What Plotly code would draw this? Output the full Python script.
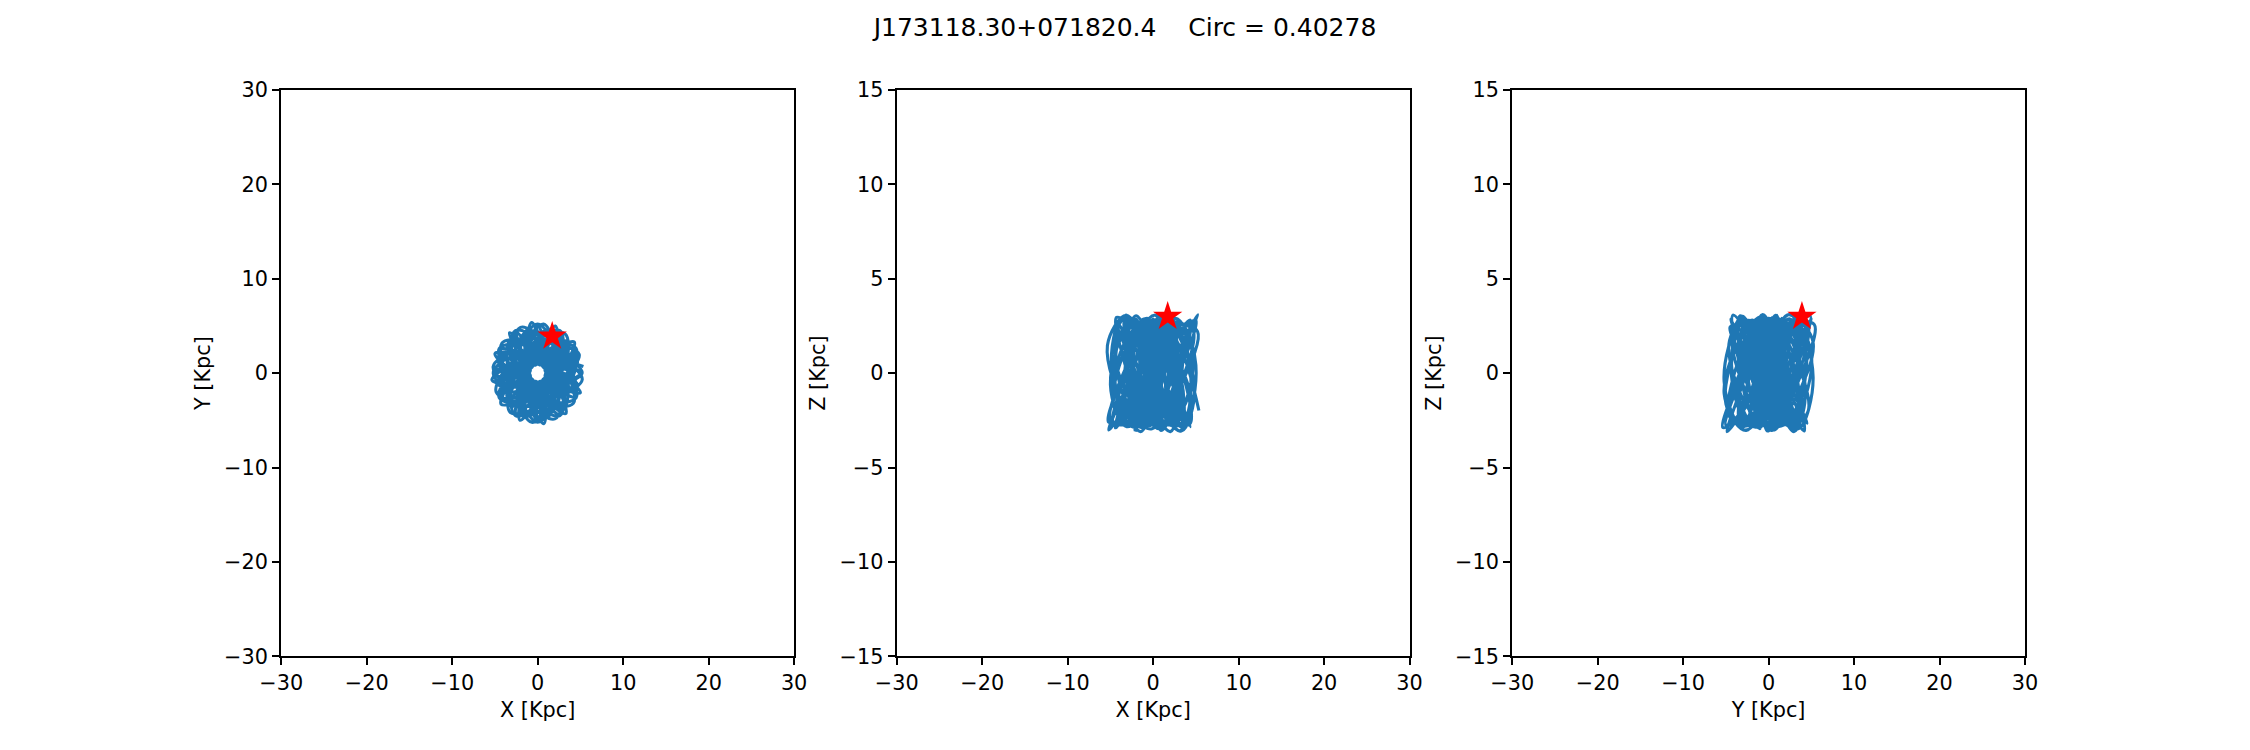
import plotly.graph_objects as go

title_text = "J173118.30+071820.4\u00a0\u00a0\u00a0\u00a0Circ = 0.40278"

# Orbit positions (kpc), read approximately from the tangle in the picture
orbit_x = [
    5.35,
    3.05, 0.13, -2.62, -4.99,
    -3.27, -0.61, 1.26, 3.29,
    2.62, 0.92, 0.43, -0.71,
    -1.26, -0.99, -2.01, -2.07,
    -0.43, 0.79, 3.2, 4.28,
    2.01, -0.38, -3.15, -5.35,
    -3.05, -0.13, 2.8, 4.99,
    3.27, 0.61, -1.5, -3.29,
    -2.4, -0.92, -0.75, 0.71,
    1.0, 0.99, 2.3, 2.07,
    0.75, -0.79, -3.15, -4.28,
    -1.75, 0.38, 3.3, 4.85,
    2.19, -0.15, -2.85, -5.21,
    -3.33, -0.44, 1.38, 4.17,
    3.57, 0.91, 0.47, -2.01,
    -3.05, -1.14, -2.19, -0.69,
    1.65, 1.06, 3.33, 3.20,
    0.2, -0.70, -3.57, -4.85,
    -1.95, 0.15, 2.85, 5.21,
    3.45, 0.44, -1.38, -4.17,
    -3.6, -0.91, -0.47, 2.01,
    3.05, 1.14, 1.9, 0.69,
    -1.1, -1.06, -3.2, -3.20,
    -0.15, 0.70, 3.5,
    5.0,
    3.09, 0.26, -2.26, -4.33,
    -3.09, -0.71, 0.83, 2.5,
    2.26, 0.97, 0.83, 0.0,
    -0.83, -0.97, -2.26, -2.5,
    -0.83, 0.71, 3.3, 4.33,
    2.26, -0.26, -2.9, -5.0,
    -3.09, -0.26, 2.45, 4.33,
    3.09, 0.71, -1.1, -2.5,
    -2.0, -0.97, -1.05, 0.0,
    0.6, 0.97, 2.5, 2.5,
    1.1, -0.71, -3.2, -4.33,
    -2.0, 0.26, 3.2, 4.64,
    2.60, 0.0, -2.60, -4.64,
    -3.0, -0.6, 1.5, 3.39,
    2.60, 1.04, 0.0, -1.24,
    -1.5, -1.2, -1.5, -1.24,
    0.0, 1.04, 2.8, 3.39,
    1.5, -0.6, -2.95, -4.64,
    -2.60, 0.0, 2.4, 4.64,
    3.0, 0.6, -1.8, -3.39,
    -2.8, -1.04, 0.35, 1.24,
    1.8, 1.2, 1.2, 1.24,
    -0.35, -1.04, -2.4, -3.39,
    -1.2, 0.6, 3.0, 5.2,
    3.03, 0.23, -1.75, -4.50,
    -3.5, -0.64, 0.0, 2.6,
    3.03, 0.87, 1.75, 0.0,
    -2.0, -0.87, -3.03, -2.6,
    0.3, 0.64, 3.5, 4.50,
    1.5, -0.23, -3.03, -5.2,
    -2.85, -0.23, 1.75, 4.50,
    3.45, 0.64, 0.0, -2.6,
    -3.15, -0.87, -1.75, 0.0,
    2.0, 0.87, 2.85, 2.6,
    -0.3, -0.64, -3.45, -4.50,
    -1.5, 0.23, 3.15, 4.44,
    2.40, 0.0, -2.40, -4.44,
    -3.28, -0.55, 0.88, 3.25,
    3.28, 0.95, 0.88, -1.19,
    -2.6, -1.1, -2.40, -1.19,
    1.15, 0.95, 3.28, 3.25,
    0.6, -0.55, -3.28, -4.44,
    -2.15, 0.0, 2.40, 4.44,
    3.35, 0.55, -0.88, -3.25,
    -3.35, -0.95, -0.88, 1.19,
    2.6, 1.1, 2.15, 1.19,
    -1.15, -0.95, -3.35, -3.25,
    -0.6, 0.55, 3.2, 3.9, 1.7,
]
orbit_y = [
    0.71,
    1.26, 0.99, 2.01, 2.07,
    0.43, -0.79, -3.05, -4.28,
    -2.01, 0.38, 3.27, 5.35,
    3.05, 0.13, -2.62, -4.99,
    -3.27, -0.61, 0.95, 3.29,
    2.62, 0.92, 0.8, -0.71,
    -1.26, -0.99, -1.75, -2.07,
    -0.43, 0.79, 2.95, 4.28,
    2.25, -0.38, -3.2, -5.35,
    -3.15, -0.13, 2.4, 4.99,
    3.2, 0.61, -0.95, -3.29,
    -2.8, -0.92, -0.1, 2.01,
    2.85, 1.14, 2.19, 0.69,
    -1.38, -1.06, -3.33, -3.20,
    -0.47, 0.70, 3.57, 4.85,
    1.9, -0.15, -2.85, -5.21,
    -3.2, -0.44, 1.38, 4.17,
    3.6, 0.91, 0.47, -2.01,
    -3.0, -1.14, -2.19, -0.69,
    1.05, 1.06, 3.33, 3.20,
    0.15, -0.70, -3.57, -4.85,
    -1.9, 0.15, 3.05, 5.21,
    3.45, 0.44, -1.65, -4.17,
    -3.6, -0.91, -0.8,
    0.0,
    0.83, 0.97, 2.26, 2.5,
    0.83, -0.71, -3.09, -4.33,
    -2.26, 0.26, 3.09, 5.0,
    3.09, 0.26, -2.26, -4.33,
    -3.09, -0.71, 0.6, 2.5,
    2.26, 0.97, 1.1, 0.0,
    -0.83, -0.97, -2.0, -2.5,
    -0.83, 0.71, 2.95, 4.33,
    2.5, -0.26, -2.9, -5.0,
    -3.2, -0.26, 2.0, 4.33,
    2.95, 0.71, -0.55, -2.5,
    -2.5, -0.97, -0.5, 1.24,
    1.5, 1.2, 1.5, 1.24,
    0.0, -1.04, -2.60, -3.39,
    -1.5, 0.6, 3.0, 4.64,
    2.60, 0.0, -2.60, -4.64,
    -3.0, -0.6, 1.2, 3.39,
    2.60, 1.04, 0.4, -1.24,
    -1.5, -1.2, -1.8, -1.24,
    0.0, 1.04, 2.4, 3.39,
    1.2, -0.6, -2.95, -4.64,
    -2.4, 0.0, 2.75, 4.64,
    2.95, 0.6, -1.8, -3.39,
    -2.75, -1.04, -1.1, 0.0,
    1.75, 0.87, 3.03, 2.6,
    0.0, -0.64, -3.5, -4.50,
    -1.75, 0.23, 3.03, 5.2,
    2.85, 0.23, -1.75, -4.50,
    -3.45, -0.64, 0.0, 2.6,
    3.15, 0.87, 1.75, 0.0,
    -2.0, -0.87, -3.03, -2.6,
    0.3, 0.64, 3.5, 4.50,
    1.5, -0.23, -3.03, -5.2,
    -2.85, -0.23, 2.0, 4.50,
    3.45, 0.64, -0.3, -2.6,
    -3.15, -0.87, -1.5, 1.19,
    2.40, 1.1, 2.40, 1.19,
    -0.88, -0.95, -3.28, -3.25,
    -0.88, 0.55, 3.28, 4.44,
    2.15, 0.0, -2.40, -4.44,
    -3.2, -0.55, 0.88, 3.25,
    3.35, 0.95, 0.88, -1.19,
    -2.6, -1.1, -2.40, -1.19,
    0.6, 0.95, 3.28, 3.25,
    0.6, -0.55, -3.28, -4.44,
    -2.15, 0.0, 2.6, 4.44,
    3.2, 0.55, -0.6, -3.25,
    -3.35, -0.95, -1.15, 1.5, 3.9,
]
orbit_z = [
    -1.98,
    1.46, 3.07, 0.87, -2.45,
    -2.70, 0.43, 3.01, 1.83,
    -1.64, -3.04, -0.65, 2.57,
    2.57, -0.65, -3.04, -1.64,
    1.83, 3.01, 0.43, -2.70,
    -2.45, 0.87, 3.07, 1.46,
    -1.98, -2.95, -0.22, 2.79,
    2.29, -1.05, -3.1, -1.27,
    2.14, 2.88, 0.0, -2.88,
    -2.14, 1.27, 3.1, 1.05,
    -2.29, -2.79, 0.22, 2.95,
    1.98, -1.46, -3.07, -0.87,
    2.45, 2.70, -0.43, -3.01,
    -1.83, 1.64, 3.04, 0.65,
    -2.57, -2.57, 0.65, 3.04,
    1.64, -1.83, -3.01, -0.43,
    2.70, 2.45, -0.87, -3.07,
    -1.46, 1.98, 2.95, 0.22,
    -2.79, -2.29, 1.05, 3.1,
    1.27, -2.14, -2.88, 0.0,
    2.88, 2.14, -1.27, -3.1,
    -1.05, 2.29, 2.79, -0.22,
    -2.95, -1.98, 1.46, 3.07,
    0.87, -2.45, -2.70,
    0.43,
    2.70, 2.00, -1.19, -2.90,
    -0.99, 2.15, 2.61, -0.20,
    -2.76, -1.86, 1.36, 2.87,
    0.81, -2.29, -2.52, 0.41,
    2.81, 1.71, -1.54, -2.84,
    -0.61, 2.41, 2.41, -0.61,
    -2.84, -1.54, 1.71, 2.81,
    0.41, -2.52, -2.29, 0.81,
    2.87, 1.36, -1.86, -2.76,
    -0.20, 2.61, 2.15, -0.99,
    -2.90, -1.19, 2.00, 2.70,
    0.0, -2.70, -2.00, 1.19,
    2.90, 0.99, -2.15, -2.61,
    0.20, 2.76, 1.86, -1.36,
    -2.87, -0.81, 2.29, 2.52,
    -0.41, -2.81, -1.71, 1.54,
    2.84, 0.61, -2.41, -2.41,
    0.61, 2.84, 1.54, -1.71,
    -2.81, -0.41, 2.52, 2.29,
    -0.81, -2.87, -1.36, 1.86,
    2.76, 0.20, -2.61, -2.15,
    0.99, 2.90, 1.19, -2.00,
    -2.70, 0.1, 2.75, 1.95,
    -1.25, -2.95, -0.9, 2.2,
    2.55, -0.3, -2.8, -1.8,
    1.45, 2.9, 0.7, -2.35,
    -2.45, 0.5, 2.85, 1.65,
    -1.6, -2.9, -0.5, 2.45,
    2.35, -0.7, -2.8, -1.45,
    1.8, 2.75, 0.3, -2.6,
    -2.2, 0.9, 2.9, 1.3,
    -1.9, -2.7, -0.1, 2.65,
    2.1, -1.05, -2.85, -1.1,
    2.05, 2.65, -0.1, -2.65,
    -1.95, 1.25, 2.85, 0.9,
    -2.2, -2.55, 0.3, 2.75,
    1.75, -1.6, -2.85, -0.55,
    2.45, 2.35, -0.7, -2.85,
    -1.45, 1.75, 2.75, 0.35,
    -2.55, -2.25, 0.85, 2.85,
    1.3, -1.9, -2.75, -0.2,
    2.6, 2.1, -1.0, -2.9,
    -1.15, 2.05, 2.65, -0.15,
    -2.7, -1.9, 0.4, 2.2, 3.0,
]

# Current position (star)
star_x = [1.7]
star_y = [3.9]
star_z = [3.0]

panels = [
    dict(h=orbit_x, v=orbit_y, sh=star_x, sv=star_y, xt="X [Kpc]", yt="Y [Kpc]", yr=[-30, 30], ydt=10),
    dict(h=orbit_x, v=orbit_z, sh=star_x, sv=star_z, xt="X [Kpc]", yt="Z [Kpc]", yr=[-15, 15], ydt=5),
    dict(h=orbit_y, v=orbit_z, sh=star_y, sv=star_z, xt="Y [Kpc]", yt="Z [Kpc]", yr=[-15, 15], ydt=5),
]
x_range = [-30, 30]
x_domains = [[0.125, 0.35294], [0.39853, 0.62649], [0.67209, 0.9]]
y_domain = [0.125, 0.88]

FONT = "DejaVu Sans"
fig = go.Figure()
axis_common = dict(
    showgrid=False, zeroline=False, showline=True, linecolor="black", linewidth=1.67,
    mirror=True, ticks="outside", ticklen=7.3, tickwidth=1.67, tickcolor="black",
    tickfont=dict(family=FONT, size=20.8, color="black"), automargin=False,
)
for i, p in enumerate(panels):
    sfx = "" if i == 0 else str(i + 1)
    fig.add_trace(go.Scatter(
        x=p["h"], y=p["v"], mode="lines", xaxis="x" + sfx, yaxis="y" + sfx,
        line=dict(color="#1f77b4", width=3.1, shape="spline", smoothing=1.0),
        showlegend=False, hoverinfo="skip",
    ))
    fig.add_trace(go.Scatter(
        x=p["sh"], y=p["sv"], mode="markers", xaxis="x" + sfx, yaxis="y" + sfx,
        marker=dict(symbol="star", size=22, color="red", line=dict(width=0)),
        showlegend=False,
    ))
    fig.layout["xaxis" + sfx] = dict(
        axis_common, domain=x_domains[i], range=x_range, tickmode="linear", tick0=-30, dtick=10,
        anchor="y" + sfx,
        title=dict(text=p["xt"], font=dict(family=FONT, size=20.8, color="black"), standoff=8),
    )
    fig.layout["yaxis" + sfx] = dict(
        axis_common, domain=y_domain, range=p["yr"], tickmode="linear", tick0=p["yr"][0], dtick=p["ydt"],
        anchor="x" + sfx,
        title=dict(text=p["yt"], font=dict(family=FONT, size=20.8, color="black"), standoff=8),
    )

fig.update_layout(
    width=2250, height=750,
    margin=dict(l=0, r=0, t=0, b=0, autoexpand=False),
    paper_bgcolor="white", plot_bgcolor="white",
    title=dict(text=title_text, x=0.5, xanchor="center", y=1 - 27 / 750, yanchor="middle",
               font=dict(family=FONT, size=25, color="black"), automargin=False),
)

fig.write_html("out.html")
